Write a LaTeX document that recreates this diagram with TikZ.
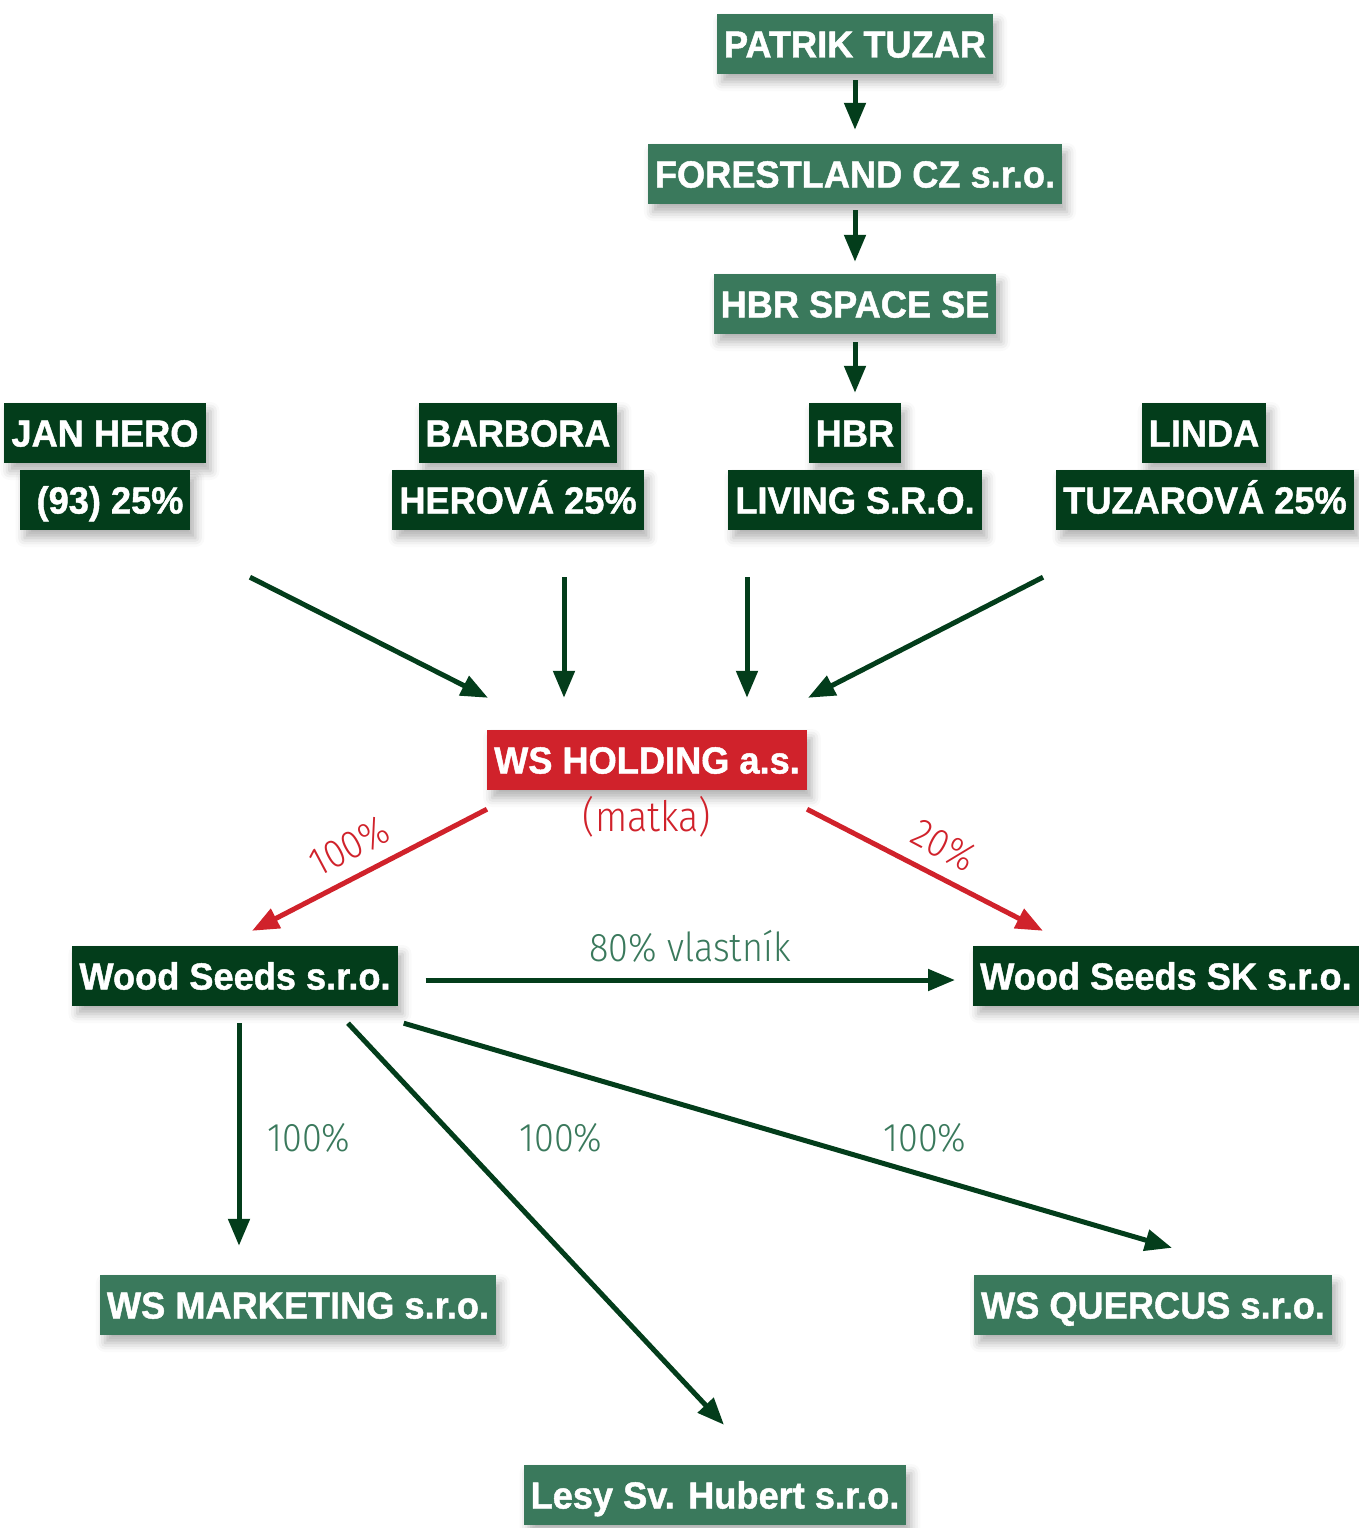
\documentclass[tikz,border=0pt]{standalone}
\usepackage{fontspec}
\setmainfont{Liberation Sans}[FakeStretch=0.96, BoldFeatures={FakeBold=1.2}]
\newfontfamily\thinfont{Fira Sans Light}[FakeStretch=0.9]
\usetikzlibrary{arrows.meta,calc,shadows.blur}

\definecolor{litegreen}{HTML}{3A795C}
\definecolor{darkgreen}{HTML}{033D1B}
\definecolor{holdred}{HTML}{D0222B}

\tikzset{
	box/.style={rectangle, inner xsep=7pt, inner ysep=0pt, minimum height=60pt,
		text height=27pt, text depth=0pt, text=white,
		font=\fontsize{37.7}{40}\selectfont\bfseries,
		blur shadow={shadow xshift=5pt, shadow yshift=-8pt, shadow blur radius=9pt, shadow opacity=30}},
	litebox/.style={box, fill=litegreen},
	darkbox/.style={box, fill=darkgreen},
	holdbox/.style={box, fill=holdred},
	arr/.style={line width=5pt, draw=darkgreen, -{Triangle[length=27pt, width=21pt]}},
	redarr/.style={arr, draw=holdred},
	pct/.style={font=\thinfont\fontsize{40}{44}\selectfont, text=litegreen,
		text height=28pt, text depth=0pt, inner sep=0pt},
}

\begin{document}
\begin{tikzpicture}[x=1pt, y=-1pt]
		%%%%% FRAME %%%%%
		\useasboundingbox (0, 0) rectangle (1359, 1528);
		
		%%%%% OWNERS %%%%%
		\node[litebox] (patrik) at (855, 44) {PATRIK TUZAR};
		\node[litebox] (forest) at (855, 174) {FORESTLAND CZ s.r.o.};
		\node[litebox] (space) at (855, 304) {HBR SPACE SE};
		
		\node[darkbox] (hbr) at (855, 433) {HBR};
		\node[darkbox] (living) at (855, 500) {LIVING S.R.O.};
		\node[darkbox] (jan) at (105, 433) {JAN HERO};
		\node[darkbox] (jan25) at (105, 500) {\ (93) 25\%};
		\node[darkbox] (barbora) at (518, 433) {BARBORA};
		\node[darkbox] (herova) at (518, 500) {HEROVÁ 25\%};
		\node[darkbox] (linda) at (1204, 433) {LINDA};
		\node[darkbox] (tuzarova) at (1205, 500) {TUZAROVÁ 25\%};
		
		\draw[arr, shorten <=6pt, shorten >=14pt] (patrik) -- (forest);
		\draw[arr, shorten <=6pt, shorten >=12pt] (forest) -- (space);
		\draw[arr, shorten <=8pt, shorten >=10pt] (space) -- (hbr);
		
		%%%%% HOLDING %%%%%
		\node[holdbox] (hold) at (647, 760) {WS HOLDING a.s.};
		\node[pct, text=holdred, text height=26pt, font=\thinfont\fontsize{42}{46}\selectfont] (matka) at (647, 818) {(matka)};
		
		\draw[arr] ($(jan25.south)+(145, 47)$) -- ($(hold.north)+(-159, -32)$);
		\draw[arr] ($(herova.south)+(46, 47)$) -- ($(hold.north)+(-83, -32)$);
		\draw[arr] ($(living.south)+(-108, 47)$) -- ($(hold.north)+(100, -32)$);
		\draw[arr] ($(tuzarova.south)+(-162, 47)$) -- ($(hold.north)+(161, -32)$);
		
		%%%%% DAUGHTERS %%%%%
		\node[darkbox] (seeds) at (235, 976) {Wood Seeds s.r.o.};
		\node[darkbox, anchor=west] (seedssk) at (973, 976) {Wood Seeds SK s.r.o.};
		
		\draw[redarr] ($(hold.south west)+(0, 19)$) -- ($(seeds.north)+(17, -15)$);
		\draw[redarr] ($(hold.south east)+(0, 19)$) -- ($(seedssk.north)+(-123, -15)$);
		\node[pct, text=holdred, rotate=28] at (349, 846) {100\%};
		\node[pct, text=holdred, rotate=-28] at (944, 845) {20\%};
		
		\draw[arr] ($(seeds.east)+(28, 4)$) -- ($(seedssk.west)+(-18, 4)$);
		\node[pct] at (690, 947) {80\% vlastník};
		
		\node[litebox] (marketing) at (298, 1305) {WS MARKETING s.r.o.};
		\node[litebox] (quercus) at (1153, 1305) {WS QUERCUS s.r.o.};
		\node[litebox] (lesy) at (715, 1495) {Lesy Sv. Hubert s.r.o.};
		
		\draw[arr] ($(seeds.south)+(4, 17)$) -- ($(marketing.north)+(-59, -29)$);
		\draw[arr] ($(seeds.south)+(113, 17)$) -- ($(lesy.north)+(9, -40)$);
		\draw[arr] ($(seeds.south east)+(6, 17)$) -- ($(quercus.north)+(19, -27)$);
		
		\node[pct] at (309, 1137) {100\%};
		\node[pct] at (561, 1137) {100\%};
		\node[pct] at (925, 1137) {100\%};
		
	\end{tikzpicture}
\end{document}
